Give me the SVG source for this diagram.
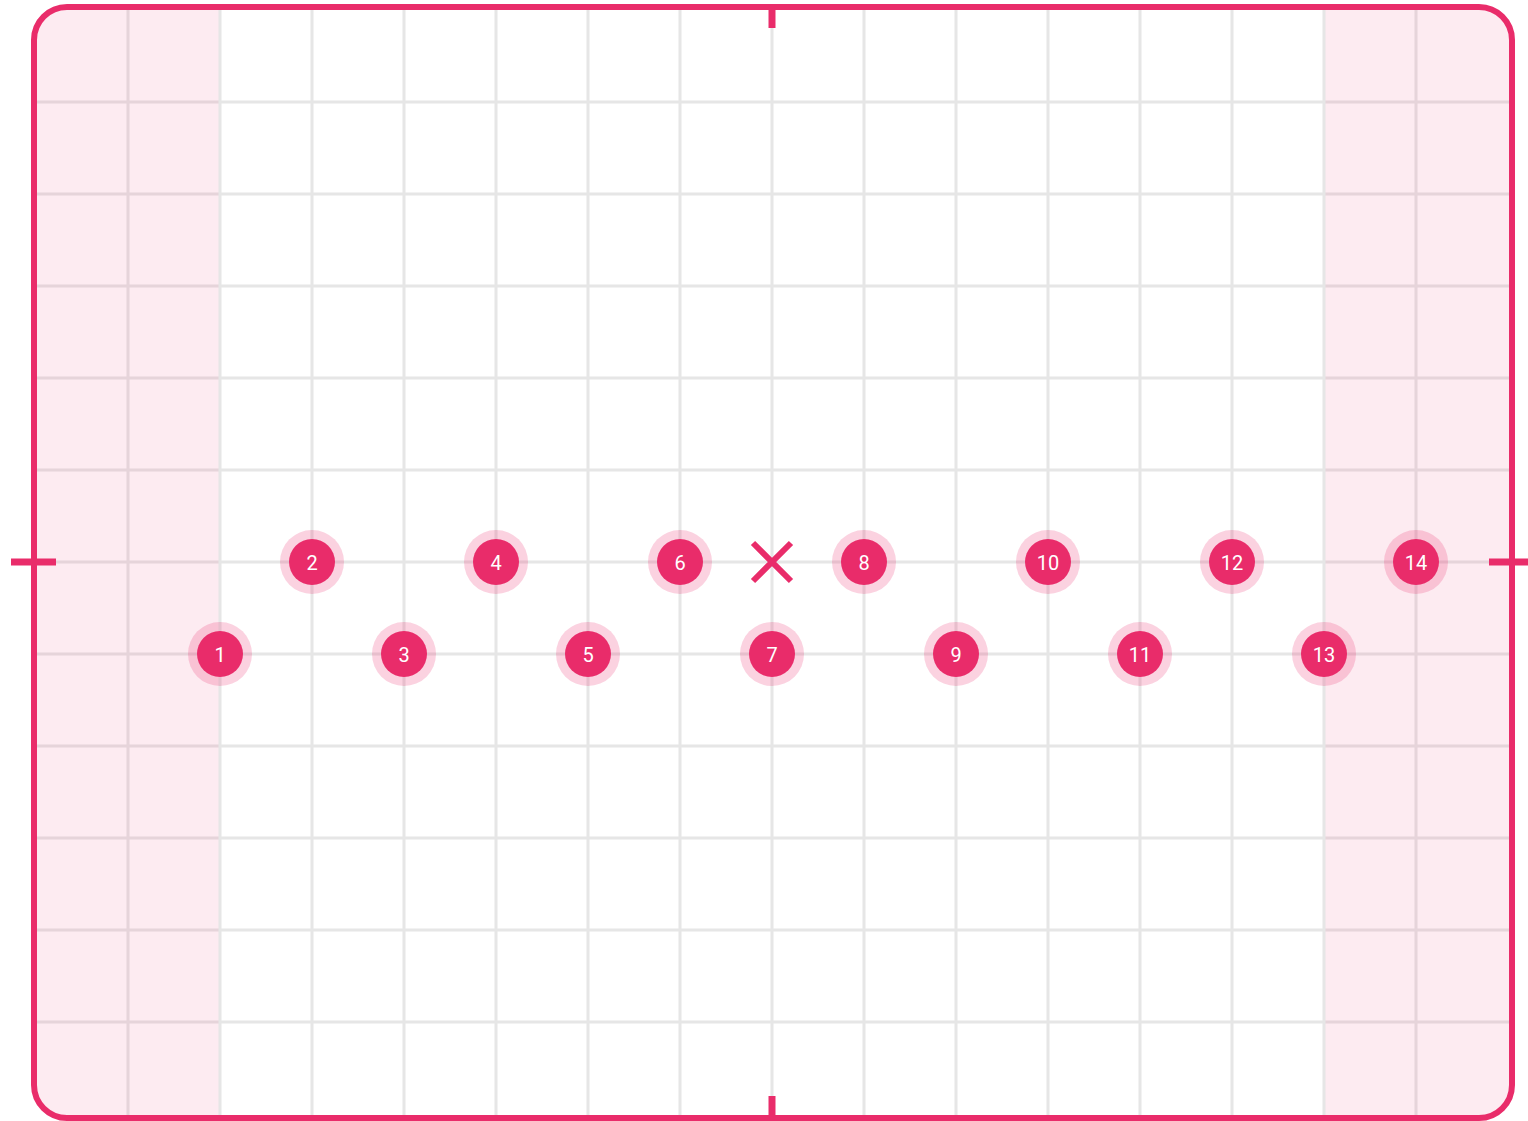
<svg xmlns="http://www.w3.org/2000/svg" width="1528" height="1121" viewBox="0 0 1528 1121">
<style>
.grid line{stroke:#E6E6E6;stroke-width:3}
.shade{fill:#E91E63;fill-opacity:0.09}
.halo{fill:#E91E63;fill-opacity:0.2}
.dot{fill:#E92C6A}
.lbl{fill:#FFFFFF;font-family:Roboto,"Liberation Sans",sans-serif;font-size:20px;text-anchor:middle;dominant-baseline:central}
.pink{stroke:#E92C6A;stroke-width:7;fill:none}
</style>
<defs>
<clipPath id="frameClip"><rect x="34" y="7" width="1478" height="1111" rx="33"/></clipPath>
</defs>
<rect width="1528" height="1121" fill="#FFFFFF"/>
<g id="grid" class="grid" clip-path="url(#frameClip)">
<line x1="128" y1="0" x2="128" y2="1121"/>
<line x1="220" y1="0" x2="220" y2="1121"/>
<line x1="312" y1="0" x2="312" y2="1121"/>
<line x1="404" y1="0" x2="404" y2="1121"/>
<line x1="496" y1="0" x2="496" y2="1121"/>
<line x1="588" y1="0" x2="588" y2="1121"/>
<line x1="680" y1="0" x2="680" y2="1121"/>
<line x1="772" y1="0" x2="772" y2="1121"/>
<line x1="864" y1="0" x2="864" y2="1121"/>
<line x1="956" y1="0" x2="956" y2="1121"/>
<line x1="1048" y1="0" x2="1048" y2="1121"/>
<line x1="1140" y1="0" x2="1140" y2="1121"/>
<line x1="1232" y1="0" x2="1232" y2="1121"/>
<line x1="1324" y1="0" x2="1324" y2="1121"/>
<line x1="1416" y1="0" x2="1416" y2="1121"/>
<line x1="0" y1="102" x2="1528" y2="102"/>
<line x1="0" y1="194" x2="1528" y2="194"/>
<line x1="0" y1="286" x2="1528" y2="286"/>
<line x1="0" y1="378" x2="1528" y2="378"/>
<line x1="0" y1="470" x2="1528" y2="470"/>
<line x1="0" y1="562" x2="1528" y2="562"/>
<line x1="0" y1="654" x2="1528" y2="654"/>
<line x1="0" y1="746" x2="1528" y2="746"/>
<line x1="0" y1="838" x2="1528" y2="838"/>
<line x1="0" y1="930" x2="1528" y2="930"/>
<line x1="0" y1="1022" x2="1528" y2="1022"/>
</g>
<g id="margins" clip-path="url(#frameClip)">
<rect class="shade" x="30" y="0" width="188.5" height="1121"/>
<rect class="shade" x="1325.5" y="0" width="200" height="1121"/>
</g>
<g id="frame">
<rect x="34" y="7" width="1478" height="1111" rx="33" fill="none" stroke="#E92C6A" stroke-width="6"/>
<line class="pink" x1="772" y1="7" x2="772" y2="28"/>
<line class="pink" x1="772" y1="1096" x2="772" y2="1118"/>
<line class="pink" x1="11" y1="562" x2="56" y2="562"/>
<line class="pink" x1="1489" y1="562" x2="1534" y2="562"/>
</g>
<g id="center-mark">
<path class="pink" style="stroke-width:6" d="M753,543 L791,581 M791,543 L753,581"/>
</g>
<g id="connectors"></g>
<g id="node-1"><circle class="halo" cx="220" cy="654" r="32"/><circle class="dot" cx="220" cy="654" r="23"/><text class="lbl" x="220" y="655">1</text></g>
<g id="node-2"><circle class="halo" cx="312" cy="562" r="32"/><circle class="dot" cx="312" cy="562" r="23"/><text class="lbl" x="312" y="563">2</text></g>
<g id="node-3"><circle class="halo" cx="404" cy="654" r="32"/><circle class="dot" cx="404" cy="654" r="23"/><text class="lbl" x="404" y="655">3</text></g>
<g id="node-4"><circle class="halo" cx="496" cy="562" r="32"/><circle class="dot" cx="496" cy="562" r="23"/><text class="lbl" x="496" y="563">4</text></g>
<g id="node-5"><circle class="halo" cx="588" cy="654" r="32"/><circle class="dot" cx="588" cy="654" r="23"/><text class="lbl" x="588" y="655">5</text></g>
<g id="node-6"><circle class="halo" cx="680" cy="562" r="32"/><circle class="dot" cx="680" cy="562" r="23"/><text class="lbl" x="680" y="563">6</text></g>
<g id="node-7"><circle class="halo" cx="772" cy="654" r="32"/><circle class="dot" cx="772" cy="654" r="23"/><text class="lbl" x="772" y="655">7</text></g>
<g id="node-8"><circle class="halo" cx="864" cy="562" r="32"/><circle class="dot" cx="864" cy="562" r="23"/><text class="lbl" x="864" y="563">8</text></g>
<g id="node-9"><circle class="halo" cx="956" cy="654" r="32"/><circle class="dot" cx="956" cy="654" r="23"/><text class="lbl" x="956" y="655">9</text></g>
<g id="node-10"><circle class="halo" cx="1048" cy="562" r="32"/><circle class="dot" cx="1048" cy="562" r="23"/><text class="lbl" x="1048" y="563">10</text></g>
<g id="node-11"><circle class="halo" cx="1140" cy="654" r="32"/><circle class="dot" cx="1140" cy="654" r="23"/><text class="lbl" x="1140" y="655">11</text></g>
<g id="node-12"><circle class="halo" cx="1232" cy="562" r="32"/><circle class="dot" cx="1232" cy="562" r="23"/><text class="lbl" x="1232" y="563">12</text></g>
<g id="node-13"><circle class="halo" cx="1324" cy="654" r="32"/><circle class="dot" cx="1324" cy="654" r="23"/><text class="lbl" x="1324" y="655">13</text></g>
<g id="node-14"><circle class="halo" cx="1416" cy="562" r="32"/><circle class="dot" cx="1416" cy="562" r="23"/><text class="lbl" x="1416" y="563">14</text></g>
</svg>
